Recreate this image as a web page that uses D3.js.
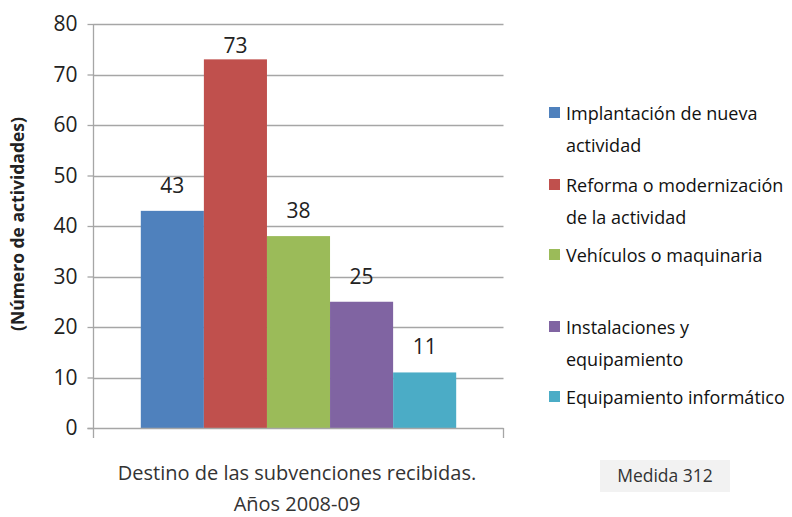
<!DOCTYPE html>
<html><head><meta charset="utf-8">
<script src="https://cdn.jsdelivr.net/npm/d3@7"></script>
<style>body{margin:0;background:#fff}svg{display:block}</style>
</head><body>
<svg id="c" width="792" height="517"></svg>
<script>
const categories = ["Implantación de nueva actividad","Reforma o modernización de la actividad","Vehículos o maquinaria","Instalaciones y equipamiento","Equipamiento informático"];
const legendLines = [["Implantación de nueva","actividad"],["Reforma o modernización","de la actividad"],["Vehículos o maquinaria"],["Instalaciones y","equipamiento"],["Equipamiento informático"]];
const values = [43,73,38,25,11];
const colors = ["#4f81bd","#c0504d","#9bbb59","#8064a2","#4bacc6"];
const yTicks = [0,10,20,30,40,50,60,70,80];
const xTitle = ["Destino de las subvenciones recibidas.","Años 2008-09"];
const yTitle = "(Número de actividades)";
const note = "Medida 312";

const font = "'Open Sans',sans-serif";
const svg = d3.select("#c");
const L=93.5, R=503.5, T=24, B=428;
const y = d3.scaleLinear().domain([0,80]).range([B,T]);
const pad = (R-L)*0.75/(5+1.5);
const x = d3.scaleBand().domain(categories).range([L+pad, R-pad]).paddingInner(0);

// gridlines
svg.append("g").selectAll("line").data(yTicks.filter(d=>d>0)).join("line")
  .attr("x1",L).attr("x2",R).attr("y1",d=>Math.round(y(d))+0.5).attr("y2",d=>Math.round(y(d))+0.5)
  .attr("stroke","#a6a6a6").attr("stroke-width",1.3);

// bars
svg.append("g").selectAll("rect").data(values).join("rect")
  .attr("x",(d,i)=>x(categories[i])).attr("width",x.bandwidth())
  .attr("y",d=>y(d)).attr("height",d=>B-y(d)).attr("fill",(d,i)=>colors[i]);

// axes
const yAxis = d3.axisLeft(y).tickValues(yTicks).tickSize(6).tickPadding(10);
const gy = svg.append("g").attr("transform",`translate(${L},0)`).call(yAxis);
gy.select(".domain").remove();
gy.selectAll(".tick line").attr("stroke","#a6a6a6").attr("stroke-width",1.3);
gy.selectAll(".tick text").attr("font-family",font).attr("font-size",21).attr("fill","#222");
svg.append("line").attr("x1",L).attr("x2",L).attr("y1",T).attr("y2",B+10).attr("stroke","#a6a6a6").attr("stroke-width",1.3);
svg.append("line").attr("x1",L-6).attr("x2",R).attr("y1",B+0.5).attr("y2",B+0.5).attr("stroke","#a6a6a6").attr("stroke-width",1.3);
svg.append("line").attr("x1",R).attr("x2",R).attr("y1",B).attr("y2",B+10).attr("stroke","#a6a6a6").attr("stroke-width",1.3);

// data labels (kept inside the plot area near the top)
svg.append("g").selectAll("text").data(values).join("text")
  .attr("x",(d,i)=>x(categories[i])+x.bandwidth()/2).attr("y",d=>Math.max(y(d)-18, T+29))
  .attr("text-anchor","middle").attr("font-family",font).attr("font-size",21).attr("fill","#222")
  .text(d=>d);

// y title
svg.append("text").attr("transform",`translate(24,224) rotate(-90)`)
  .attr("text-anchor","middle").attr("font-family",font).attr("font-weight","bold")
  .attr("font-size",17.5).attr("fill","#222").text(yTitle);

// x title
svg.append("g").selectAll("text").data(xTitle).join("text")
  .attr("x",297).attr("y",(d,i)=>480+i*31).attr("text-anchor","middle")
  .attr("font-family",font).attr("font-size",20).attr("fill","#333").text(d=>d);

// legend
const legY = [113,185,255,327,397];
const lg = svg.append("g");
legendLines.forEach((lines,i)=>{
  lg.append("rect").attr("x",549).attr("y",legY[i]-6).attr("width",11).attr("height",11).attr("fill",colors[i]);
  lines.forEach((t,j)=>{
    lg.append("text").attr("x",566).attr("y",legY[i]+j*32+7).attr("font-family",font)
      .attr("font-size",18).attr("fill","#111").text(t);
  });
});

// note box
svg.append("rect").attr("x",600).attr("y",460).attr("width",130).attr("height",32).attr("fill","#f2f2f2");
svg.append("text").attr("x",665).attr("y",482).attr("text-anchor","middle").attr("font-family",font)
  .attr("font-size",17.5).attr("fill","#333").text(note);
</script>
</body></html>
